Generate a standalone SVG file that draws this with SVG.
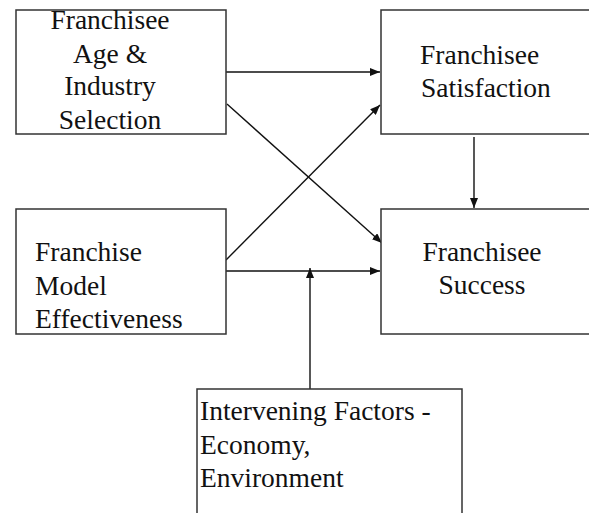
<svg xmlns="http://www.w3.org/2000/svg" width="589" height="513" viewBox="0 0 589 513">
<style>
.box{fill:#fff;stroke:#333;stroke-width:1.5}
text{font-family:'Liberation Serif','DejaVu Serif',serif;font-size:27.5px;fill:#111}
.c{text-anchor:middle}
.ln{stroke:#111;stroke-width:1.4;fill:none;marker-end:url(#ah)}
</style>
<defs>
<marker id="ah" viewBox="0 0 10 8" refX="10" refY="4" markerWidth="10" markerHeight="8" markerUnits="userSpaceOnUse" orient="auto">
<path d="M0,0 L10,4 L0,8 Z" fill="#111"/>
</marker>
</defs>
<rect width="589" height="513" fill="#fff"/>
<g id="connectors">
<line class="ln" x1="224" y1="72" x2="380" y2="72"/>
<line class="ln" x1="227" y1="104" x2="382" y2="243"/>
<line class="ln" x1="226" y1="260" x2="380" y2="105"/>
<line class="ln" x1="226" y1="271" x2="380" y2="271"/>
<line class="ln" x1="474" y1="137" x2="474" y2="208"/>
<line class="ln" x1="310" y1="389" x2="310" y2="268"/>
</g>
<g id="age" font-family="Liberation Serif, serif">
<rect class="box" x="16" y="10" width="210" height="124"/>
<text class="c" x="110" y="29">Franchisee</text>
<text class="c" x="110" y="63">Age &amp;</text>
<text class="c" x="110" y="95">Industry</text>
<text class="c" x="110" y="129">Selection</text>
</g>
<g id="satisfaction">
<rect class="box" x="381" y="10" width="220" height="124"/>
<text x="420" y="64">Franchisee</text>
<text x="421" y="97">Satisfaction</text>
</g>
<g id="model">
<rect class="box" x="16" y="209" width="210" height="125"/>
<text x="35" y="261">Franchise</text>
<text x="35" y="295">Model</text>
<text x="35" y="328">Effectiveness</text>
</g>
<g id="success">
<rect class="box" x="381" y="209" width="220" height="125"/>
<text class="c" x="482" y="261">Franchisee</text>
<text class="c" x="482" y="294">Success</text>
</g>
<g id="intervening">
<rect class="box" x="197" y="389" width="265" height="140"/>
<text x="200" y="420">Intervening Factors -</text>
<text x="200" y="454">Economy,</text>
<text x="200" y="487">Environment</text>
</g>
</svg>
